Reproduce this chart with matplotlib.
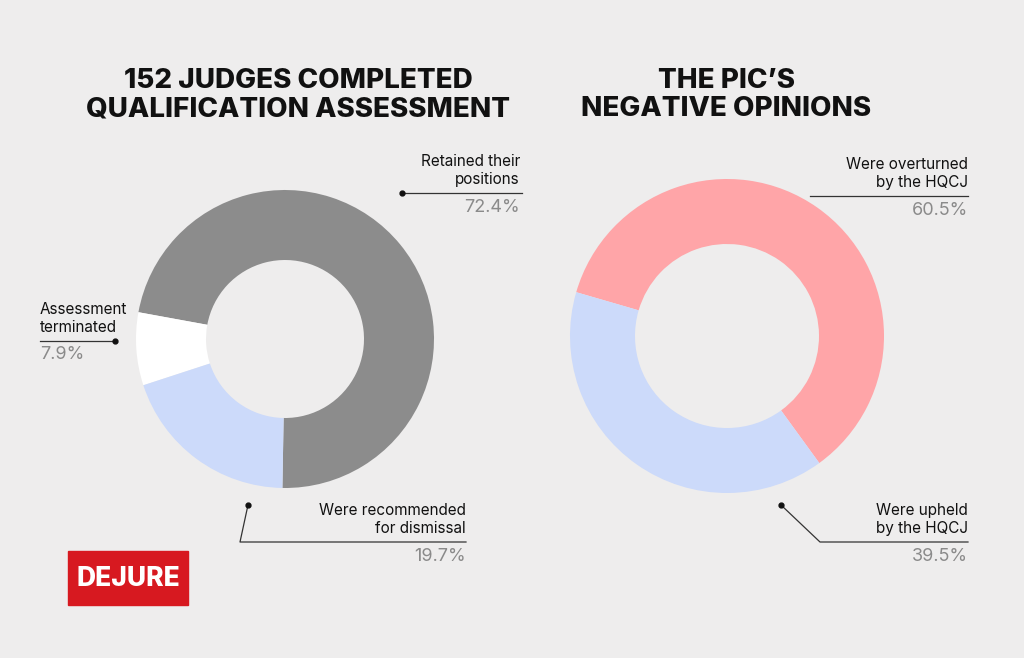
import matplotlib.pyplot as plt
from matplotlib.patches import Rectangle

plt.rcParams['font.family'] = ['Inter', 'DejaVu Sans']

left_labels = ["Retained their\npositions", "Assessment\nterminated", "Were recommended\nfor dismissal"]
left_values = [72.4, 7.9, 19.7]
left_colors = ["#8c8c8c", "#ffffff", "#ccdafa"]

right_labels = ["Were overturned\nby the HQCJ", "Were upheld\nby the HQCJ"]
right_values = [60.5, 39.5]
right_colors = ["#ffa5a8", "#ccdafa"]

bg = "#eeeded"
fig = plt.figure(figsize=(10.24, 6.58), dpi=100, facecolor=bg)
ax = fig.add_axes([0, 0, 1, 1])
ax.set_facecolor(bg)

# donuts (y axis inverted, so flip angle direction)
ax.pie(left_values, colors=left_colors, center=(285, 339), radius=149,
       startangle=91, counterclock=False, frame=True,
       wedgeprops=dict(width=149 - 79, linewidth=0))
ax.pie(right_values, colors=right_colors, center=(727, 336), radius=157,
       startangle=54, counterclock=False, frame=True,
       wedgeprops=dict(width=157 - 92, linewidth=0))
ax.set_xlim(0, 1024)
ax.set_ylim(658, 0)
ax.set_aspect('auto')
ax.axis('off')

title_kw = dict(fontsize=20, fontweight='heavy', ha='center', va='center', color='#111111')
ax.text(298, 95, "152 JUDGES COMPLETED\nQUALIFICATION ASSESSMENT", linespacing=1.1, **title_kw)
ax.text(726, 95, "THE PIC\u2019S\nNEGATIVE OPINIONS", linespacing=1.1, **title_kw)

lab_kw = dict(fontsize=11, color='#111111', linespacing=1.25)
pct_kw = dict(fontsize=13, color='#8a8a8a')
line_kw = dict(color='#333333', lw=0.9)

def dot(x, y):
    ax.plot([x], [y], 'o', color='#111111', ms=3.5)

# Retained
ax.plot([402, 522], [193, 193], **line_kw); dot(402, 193)
ax.text(520, 187, left_labels[0], ha='right', va='bottom', **lab_kw)
ax.text(520, 199, f"{left_values[0]}%", ha='right', va='top', **pct_kw)
# Assessment terminated
ax.plot([40, 115], [341, 341], **line_kw); dot(115, 341)
ax.text(40, 335, left_labels[1], ha='left', va='bottom', **lab_kw)
ax.text(40, 346, f"{left_values[1]}%", ha='left', va='top', **pct_kw)
# Dismissal
ax.plot([248, 240, 466], [505, 542, 542], **line_kw); dot(248, 505)
ax.text(466, 536, left_labels[2], ha='right', va='bottom', **lab_kw)
ax.text(466, 548, f"{left_values[2]}%", ha='right', va='top', **pct_kw)
# Overturned
ax.plot([810, 968], [196, 196], **line_kw)
ax.text(968, 190, right_labels[0], ha='right', va='bottom', **lab_kw)
ax.text(968, 202, f"{right_values[0]}%", ha='right', va='top', **pct_kw)
# Upheld
ax.plot([781, 820, 968], [505, 542, 542], **line_kw); dot(781, 505)
ax.text(968, 536, right_labels[1], ha='right', va='bottom', **lab_kw)
ax.text(968, 548, f"{right_values[1]}%", ha='right', va='top', **pct_kw)

# logo
ax.add_patch(Rectangle((68, 551), 120, 54, color='#d71920'))
ax.text(128, 579, "DEJURE", ha='center', va='center', color='white',
        fontsize=19, fontweight='heavy', fontstretch='condensed')

fig.savefig("out.png", dpi=100, facecolor=bg)
